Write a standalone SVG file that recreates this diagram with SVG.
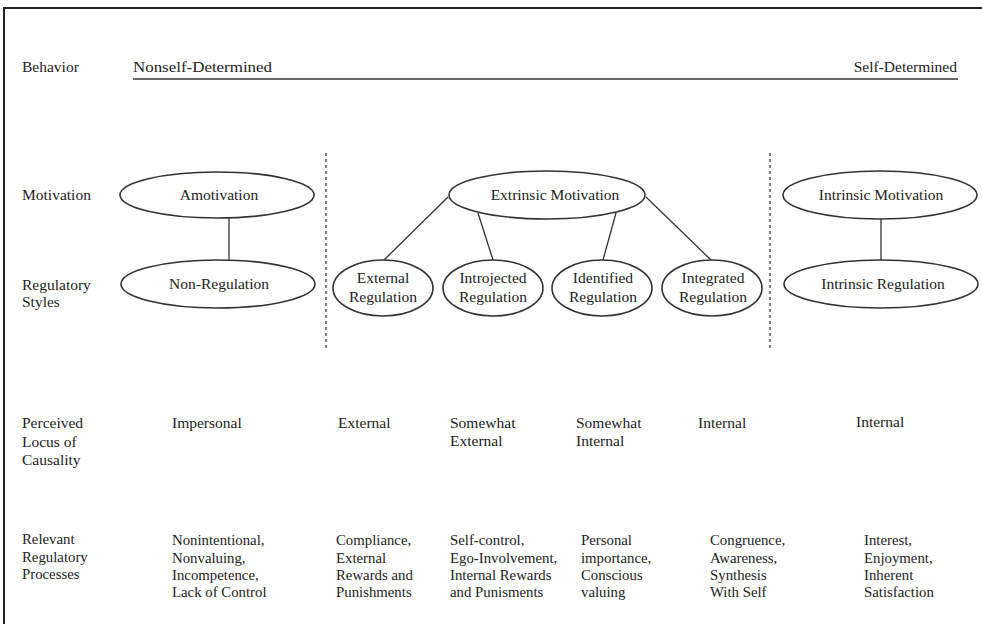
<svg xmlns="http://www.w3.org/2000/svg" width="982" height="624" viewBox="0 0 982 624">
<style>
text{font-family:"Liberation Serif","Times New Roman",serif;font-size:15.5px;fill:#222}
.m{text-anchor:middle}
.p{font-size:14.8px}
.e{fill:#fff;stroke:#333;stroke-width:1.6}
.c{stroke:#333;stroke-width:1.3;fill:none}
.d{stroke:#555;stroke-width:1.5;stroke-dasharray:3 3;fill:none}
</style>
<rect width="982" height="624" fill="#fff"/>
<path d="M4,624 V8 H982" fill="none" stroke="#222" stroke-width="2"/>
<g id="row-labels">
<text x="22" y="72">Behavior</text>
<text x="22" y="200">Motivation</text>
<text x="22" y="290">Regulatory</text>
<text x="22" y="307">Styles</text>
<text x="22" y="428">Perceived</text>
<text x="22" y="447">Locus of</text>
<text x="22" y="465">Causality</text>
<text class="p" x="22" y="544">Relevant</text>
<text class="p" x="22" y="562">Regulatory</text>
<text class="p" x="22" y="579">Processes</text>
</g>
<g id="behavior-axis">
<text x="133" y="72" textLength="139" lengthAdjust="spacingAndGlyphs">Nonself-Determined</text>
<text x="957" y="72" text-anchor="end">Self-Determined</text>
<line x1="133" y1="79" x2="958" y2="79" stroke="#6a6a6a" stroke-width="2"/>
</g>
<g id="dividers">
<line class="d" x1="326" y1="153" x2="326" y2="350"/>
<line class="d" x1="770" y1="153" x2="770" y2="350"/>
</g>
<g id="connectors">
<line class="c" x1="229" y1="218" x2="229" y2="260"/>
<line class="c" x1="448" y1="197" x2="384" y2="260"/>
<line class="c" x1="478" y1="213" x2="493" y2="260"/>
<line class="c" x1="616" y1="213" x2="603" y2="260"/>
<line class="c" x1="646" y1="197" x2="711" y2="260"/>
<line class="c" x1="881" y1="219" x2="881" y2="260"/>
</g>
<g id="amotivation"><ellipse class="e" cx="217" cy="195" rx="97" ry="23"/><text class="m" x="219" y="200">Amotivation</text></g>
<g id="non-regulation"><ellipse class="e" cx="218" cy="284" rx="97" ry="24"/><text class="m" x="219" y="289">Non-Regulation</text></g>
<g id="extrinsic-motivation"><ellipse class="e" cx="547" cy="195" rx="98" ry="24"/><text class="m" x="555" y="200">Extrinsic Motivation</text></g>
<g id="external-regulation"><ellipse class="e" cx="383" cy="288" rx="50" ry="28"/><text class="m" x="383" y="283">External</text><text class="m" x="383" y="302">Regulation</text></g>
<g id="introjected-regulation"><ellipse class="e" cx="493" cy="288" rx="50" ry="28"/><text class="m" x="493" y="283">Introjected</text><text class="m" x="493" y="302">Regulation</text></g>
<g id="identified-regulation"><ellipse class="e" cx="602" cy="288" rx="50" ry="28"/><text class="m" x="603" y="283">Identified</text><text class="m" x="603" y="302">Regulation</text></g>
<g id="integrated-regulation"><ellipse class="e" cx="712" cy="288" rx="50" ry="28"/><text class="m" x="713" y="283">Integrated</text><text class="m" x="713" y="302">Regulation</text></g>
<g id="intrinsic-motivation"><ellipse class="e" cx="880" cy="195" rx="97" ry="24"/><text class="m" x="881" y="200">Intrinsic Motivation</text></g>
<g id="intrinsic-regulation"><ellipse class="e" cx="881" cy="284" rx="97" ry="24"/><text class="m" x="883" y="289">Intrinsic Regulation</text></g>
<g id="locus">
<text x="172" y="428">Impersonal</text>
<text x="338" y="428">External</text>
<text x="450" y="428">Somewhat</text>
<text x="450" y="446">External</text>
<text x="576" y="428">Somewhat</text>
<text x="576" y="446">Internal</text>
<text x="698" y="428">Internal</text>
<text x="856" y="427">Internal</text>
</g>
<g id="processes">
<text class="p" x="172" y="545">Nonintentional,</text>
<text class="p" x="172" y="563">Nonvaluing,</text>
<text class="p" x="172" y="580">Incompetence,</text>
<text class="p" x="172" y="597">Lack of Control</text>
<text class="p" x="336" y="545">Compliance,</text>
<text class="p" x="336" y="563">External</text>
<text class="p" x="336" y="580">Rewards and</text>
<text class="p" x="336" y="597">Punishments</text>
<text class="p" x="450" y="545">Self-control,</text>
<text class="p" x="450" y="563">Ego-Involvement,</text>
<text class="p" x="450" y="580">Internal Rewards</text>
<text class="p" x="450" y="597">and Punisments</text>
<text class="p" x="581" y="545">Personal</text>
<text class="p" x="581" y="563">importance,</text>
<text class="p" x="581" y="580">Conscious</text>
<text class="p" x="581" y="597">valuing</text>
<text class="p" x="710" y="545">Congruence,</text>
<text class="p" x="710" y="563">Awareness,</text>
<text class="p" x="710" y="580">Synthesis</text>
<text class="p" x="710" y="597">With Self</text>
<text class="p" x="864" y="545">Interest,</text>
<text class="p" x="864" y="563">Enjoyment,</text>
<text class="p" x="864" y="580">Inherent</text>
<text class="p" x="864" y="597">Satisfaction</text>
</g>
</svg>
